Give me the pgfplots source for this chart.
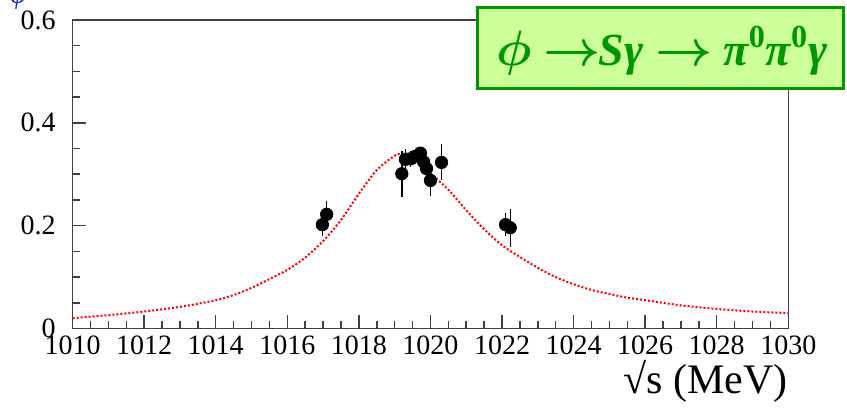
\documentclass[border=0pt]{standalone}
\usepackage{fontspec}
\setmainfont{Liberation Serif}
\usepackage{amsmath}
\usepackage{pgfplots}
\pgfplotsset{compat=1.18}
\definecolor{boxgreen}{RGB}{0,150,0}
\definecolor{boxfill}{RGB}{204,255,153}
\definecolor{labblue}{RGB}{20,40,200}
\begin{document}
\begin{tikzpicture}
\begin{axis}[
  scale only axis, width=357.85pt, height=154.25pt,
  xmin=1010, xmax=1030, ymin=0, ymax=0.6,
  xtick={1010,1012,1014,1016,1018,1020,1022,1024,1026,1028,1030},
  xticklabels={1010,1012,1014,1016,1018,1020,1022,1024,1026,1028,1030},
  ytick={0,0.2,0.4,0.6}, yticklabels={0,0.2,0.4,0.6},
  minor x tick num=3, minor y tick num=3,
  xtick pos=left, ytick pos=left, tick align=inside,
  major tick length=6.75pt, minor tick length=3.5pt,
  axis line style={line width=0.75pt, black!75},
  every tick/.style={line width=0.75pt, black!75},
  ticklabel style={font=\fontsize{14}{16}\selectfont},
  yticklabel style={xshift=-5pt},
  /pgf/number format/assume math mode=true,
  xlabel={√s (MeV)},
  x label style={at={(axis description cs:1,0)}, anchor=base east, yshift=-32.5pt, inner sep=0pt, font=\fontsize{21}{24}\selectfont},
]
\addplot[red, line width=1pt, dash pattern=on 1pt off 1pt, smooth] coordinates {
(1010,0.020) (1011,0.026) (1012,0.033) (1013,0.042) (1014,0.055) (1014.5,0.065)
(1015,0.079) (1015.5,0.096) (1016,0.114) (1016.5,0.138) (1017,0.170) (1017.5,0.211)
(1018,0.262) (1018.5,0.308) (1019,0.336) (1019.2,0.340) (1019.5,0.336) (1020,0.302)
(1020.5,0.270) (1021,0.230) (1021.5,0.193) (1022,0.162) (1022.5,0.139) (1023,0.118)
(1023.5,0.100) (1024,0.086) (1024.5,0.075) (1025,0.067) (1025.5,0.060) (1026,0.055)
(1027,0.045) (1028,0.038) (1029,0.033) (1030,0.030)
};
\addplot[only marks, mark=*, mark size=3.1pt, black,
  error bars/.cd, y dir=both, y explicit, error mark=none,
  error bar style={line width=0.75pt, black}]
  table[x=x, y=y, y error=e] {
x y e
1016.98 0.202 0.022
1017.10 0.222 0.025
1019.20 0.301 0.045
1019.30 0.329 0.020
1019.44 0.330 0.015
1019.58 0.335 0.015
1019.72 0.341 0.012
1019.81 0.324 0.015
1019.89 0.311 0.015
1020.00 0.288 0.030
1020.31 0.323 0.035
1022.10 0.202 0.022
1022.23 0.196 0.037
};
\end{axis}
\draw[boxgreen, fill=boxfill, line width=1.75pt] (202.55pt,120.1pt) rectangle (385.35pt,160.4pt);
\node[text=boxgreen, font=\fontsize{23}{26}\selectfont\bfseries\itshape] at (294.7pt,139pt)
  {$\boldsymbol{\phi}$ $\boldsymbol{\rightarrow}$\kern-1ptSγ $\boldsymbol{\rightarrow}$ π\textsuperscript{\upshape 0}π\textsuperscript{\upshape 0}γ};
\node[text=labblue, anchor=south, inner sep=0pt, font=\fontsize{14}{16}\selectfont\itshape] at (-27.3pt,159.25pt) {φ};
\pgfresetboundingbox
\useasboundingbox (-36.3pt,-40.75pt) rectangle (387.2pt,164.25pt);
\end{tikzpicture}
\end{document}
